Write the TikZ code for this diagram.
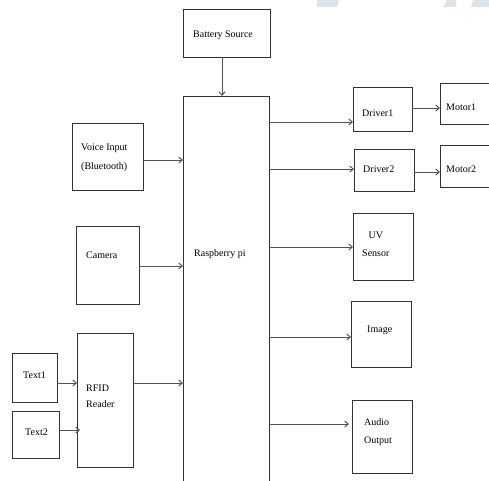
\documentclass[tikz,border=0pt]{standalone}
\usepackage{fontspec}
\setmainfont{Liberation Serif}
\usetikzlibrary{arrows.meta}
\definecolor{wm}{HTML}{DDE3E7}
\definecolor{ln}{HTML}{333333}
\tikzset{
  box/.style={draw=ln, line width=0.9pt, inner sep=0pt, outer sep=0pt, anchor=north west},
  txt/.style={font=\fontsize{10}{12}\selectfont, inner sep=0pt, anchor=west, text=black},
  arr/.style={draw=ln!85, line width=1pt, -{Straight Barb[length=3.5pt,width=6pt]}}
}
\begin{document}
\begin{tikzpicture}[x=1pt,y=-1pt]
\useasboundingbox (0,0) rectangle (489,480);
\clip (0,0) rectangle (489,480);
% faint watermark fragments
\fill[wm] (317,0) -- (339,0) -- (337,7) -- (317,7) -- cycle;
\fill[wm] (447,0) -- (456,0) -- (456,7) -- (443,7) -- cycle;
\fill[wm] (473,0) -- (489,0) -- (489,7) -- (471,7) -- cycle;

% boxes
\node[box, minimum width=87, minimum height=48] (bat) at (183,9) {};
\node[box, minimum width=86, minimum height=394] (rpi) at (183,96) {};
\node[box, minimum width=71, minimum height=67] (voice) at (72,123) {};
\node[box, minimum width=63, minimum height=78] (cam) at (76,226) {};
\node[box, minimum width=56, minimum height=134] (rfid) at (77,333) {};
\node[box, minimum width=45, minimum height=49] (t1) at (12,353) {};
\node[box, minimum width=47, minimum height=47] (t2) at (12,411) {};
\node[box, minimum width=59, minimum height=44] (drv1) at (353,87) {};
\node[box, minimum width=60, minimum height=42] (drv2) at (354,149) {};
\node[box, minimum width=60, minimum height=41] (mot1) at (440,83) {};
\node[box, minimum width=60, minimum height=42] (mot2) at (440,145) {};
\node[box, minimum width=60, minimum height=67] (uv) at (353,213) {};
\node[box, minimum width=60, minimum height=66] (img) at (351,301) {};
\node[box, minimum width=60, minimum height=73] (aud) at (352,400) {};

% texts
\node[txt] (batT) at (193,35) {Battery Source};
\node[txt] (rpiT) at (194,254) {Raspberry pi};
\node[txt, align=left, font=\fontsize{10}{19}\selectfont] (voiceT) at (81,157.5) {Voice Input\\(Bluetooth)};
\node[txt] (camT) at (86,255) {Camera};
\node[txt, align=left, font=\fontsize{10}{16}\selectfont] (rfidT) at (86,396) {RFID\\Reader};
\node[txt] (t1T) at (23,375) {Text1};
\node[txt] (t2T) at (25,432) {Text2};
\node[txt] (drv1T) at (362,113) {Driver1};
\node[txt] (drv2T) at (363,169) {Driver2};
\node[txt] (mot1T) at (446,107) {Motor1};
\node[txt] (mot2T) at (446,169) {Motor2};
\node[txt, align=center, font=\fontsize{10}{18}\selectfont] (uvT) at (362,244) {UV\\Sensor};
\node[txt] (imgT) at (367,330) {Image};
\node[txt, align=left, font=\fontsize{10}{18}\selectfont] (audT) at (364,432) {Audio\\Output};

% connector levels
\coordinate (xb) at (222,0);
\coordinate (yv) at (0,160);
\coordinate (yc) at (0,266);
\coordinate (yr) at (0,383);
\coordinate (yt2) at (0,430);
\coordinate (yd1) at (0,122);
\coordinate (yd2) at (0,169);
\coordinate (yuv) at (0,247);
\coordinate (yim) at (0,337);
\coordinate (yau) at (0,424);
\coordinate (ym1) at (0,108);
\coordinate (ym2) at (0,172);

% connectors
\draw[arr] (bat.south -| xb) -- (rpi.north -| xb);
\draw[arr] (voice.east |- yv) -- (rpi.west |- yv);
\draw[arr] (cam.east |- yc) -- (rpi.west |- yc);
\draw[arr] (rfid.east |- yr) -- (rpi.west |- yr);
\draw[arr] (t1.east |- yr) -- (rfid.west |- yr);
\draw[arr] (t2.east |- yt2) -- ([xshift=3pt]rfid.west |- yt2);
\draw[arr] (rpi.east |- yd1) -- (drv1.west |- yd1);
\draw[arr] (rpi.east |- yd2) -- (drv2.west |- yd2);
\draw[arr] (rpi.east |- yuv) -- (uv.west |- yuv);
\draw[arr] (rpi.east |- yim) -- (img.west |- yim);
\draw[arr, shorten >=3pt] (rpi.east |- yau) -- (aud.west |- yau);
\draw[arr] (drv1.east |- ym1) -- (mot1.west |- ym1);
\draw[arr] (drv2.east |- ym2) -- (mot2.west |- ym2);
\end{tikzpicture}
\end{document}
